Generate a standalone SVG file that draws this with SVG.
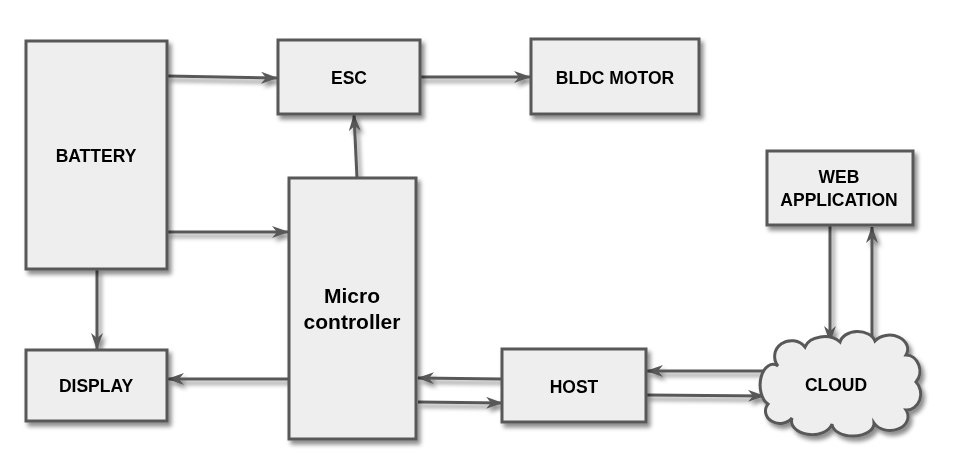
<svg xmlns="http://www.w3.org/2000/svg" width="960" height="470" viewBox="0 0 960 470">
<style>
.box{fill:#eeeeee;stroke:#595959;stroke-width:3}
.lbl{font-family:"Liberation Sans",Arial,sans-serif;font-weight:bold;font-size:17.5px;fill:#000;text-anchor:middle}
.big{font-size:21px}
.con{fill:none;stroke:#595959;stroke-width:3}
</style>
<defs>
<filter id="sh" x="-20%" y="-20%" width="150%" height="150%">
<feDropShadow dx="3" dy="4" stdDeviation="2.2" flood-color="#000" flood-opacity="0.45"/>
</filter>
<marker id="ah" viewBox="0 0 17 12" refX="16" refY="6" markerWidth="17" markerHeight="12" markerUnits="userSpaceOnUse" orient="auto">
<path d="M0,0 L17,6 L0,12 L5,6 Z" fill="#595959"/>
</marker>
</defs>
<rect width="960" height="470" fill="#ffffff"/>
<g id="connectors" filter="url(#sh)">
<path class="con" d="M167,76 L277,78" marker-end="url(#ah)"/>
<path class="con" d="M167,232 L288,232" marker-end="url(#ah)"/>
<path class="con" d="M420,77 L530,77" marker-end="url(#ah)"/>
<path class="con" d="M357,178 L354,115" marker-end="url(#ah)"/>
<path class="con" d="M97,269 L97,349" marker-end="url(#ah)"/>
<path class="con" d="M289,379 L168,379" marker-end="url(#ah)"/>
<path class="con" d="M501,379 L418,378" marker-end="url(#ah)"/>
<path class="con" d="M418,402 L502,403" marker-end="url(#ah)"/>
<path class="con" d="M766,371 L647,371" marker-end="url(#ah)"/>
<path class="con" d="M646,395 L764,396" marker-end="url(#ah)"/>
<path class="con" d="M830,226 L830,342" marker-end="url(#ah)"/>
<path class="con" d="M872,342 L872,227" marker-end="url(#ah)"/>
</g>
<g id="battery" filter="url(#sh)">
<rect class="box" x="26" y="41" width="141" height="228"/>
<text class="lbl" x="96" y="162">BATTERY</text>
</g>
<g id="esc" filter="url(#sh)">
<rect class="box" x="278" y="40" width="142" height="74"/>
<text class="lbl" x="349" y="84">ESC</text>
</g>
<g id="bldc" filter="url(#sh)">
<rect class="box" x="531" y="39" width="168" height="75"/>
<text class="lbl" x="615" y="84">BLDC MOTOR</text>
</g>
<g id="micro" filter="url(#sh)">
<rect class="box" x="289" y="178" width="127" height="261"/>
<text class="lbl big" x="352" y="303">Micro</text>
<text class="lbl big" x="352" y="329">controller</text>
</g>
<g id="display" filter="url(#sh)">
<rect class="box" x="26" y="350" width="141" height="71"/>
<text class="lbl" x="96" y="392">DISPLAY</text>
</g>
<g id="host" filter="url(#sh)">
<rect class="box" x="502" y="349" width="144" height="73"/>
<text class="lbl" x="574" y="393">HOST</text>
</g>
<g id="webapp" filter="url(#sh)">
<rect class="box" x="767" y="151" width="146" height="74"/>
<text class="lbl" x="839" y="183">WEB</text>
<text class="lbl" x="839" y="206">APPLICATION</text>
</g>
<g id="cloud" filter="url(#sh)">
<path class="box" d="M778,366 A16,15 0 0 1 805,347 A20,14 0 0 1 840,342 A18,13 0 0 1 875,341 A18,14 0 0 1 906,355 A14,16 0 0 1 916,382 A14,16 0 0 1 906,410 A18,14 0 0 1 874,423 A20,12 0 0 1 832,424 A18,12 0 0 1 792,418 A14,12 0 0 1 768,404 A10,16 0 0 1 778,366 Z"/>
<text class="lbl" x="836" y="391">CLOUD</text>
</g>
</svg>
